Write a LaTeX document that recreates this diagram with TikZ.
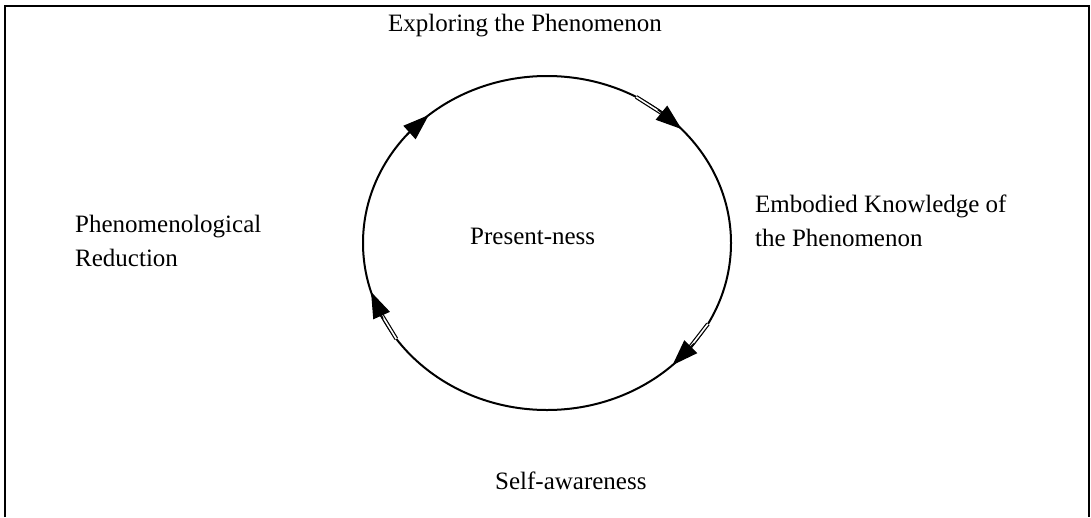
\documentclass[tikz,border=0pt]{standalone}
\usepackage{fontspec}
\setmainfont{Liberation Serif}
\usetikzlibrary{arrows.meta}
\begin{document}
\begin{tikzpicture}[x=1pt,y=-1pt,
  lbl/.style={inner sep=0pt, font=\fontsize{25}{34}\selectfont, align=left},
  cyc/.style={line width=2pt},
  head/.style={-{Triangle[length=26pt,width=18pt]}, line width=1.2pt},
  dbl/.style={double, double distance=1.6pt, line width=1.2pt}]
\useasboundingbox (0,0) rectangle (1091,517);
% frame (no bottom edge)
\draw[line width=2pt] (5,517) -- (5,6) -- (1089,6) -- (1089,517);
% cycle
\def\cx{547}\def\cy{243}\def\rx{184}\def\ry{167}
\coordinate (C) at (\cx,\cy);
\draw[cyc] (C) ellipse [x radius=\rx, y radius=\ry];
% arrowheads (clockwise)
\foreach \t/\hasdbl in {130/0, 43/1, -47/1, 197/1}{
  \coordinate (tip) at ({\cx+\rx*cos(\t)},{\cy-\ry*sin(\t)});
  \coordinate (pre) at ({\cx+\rx*cos(\t+10)},{\cy-\ry*sin(\t+10)});
  \coordinate (s1) at ({\cx+\rx*cos(\t+6)},{\cy-\ry*sin(\t+6)});
  \coordinate (s2) at ({\cx+\rx*cos(\t+18)},{\cy-\ry*sin(\t+18)});
  \ifnum\hasdbl=1 \draw[dbl] (s2) -- (s1); \fi
  \draw[head] (pre) -- (tip);
}
% labels
\node[lbl, anchor=base west] (explore) at (388,31) {Exploring the Phenomenon};
\node[lbl, anchor=west] (embodied) at (755,221) {Embodied Knowledge of\\the Phenomenon};
\node[lbl, anchor=west] (reduction) at (75,241) {Phenomenological\\Reduction};
\node[lbl, anchor=base west] (present) at (470,244) {Present-ness};
\node[lbl, anchor=base west] (self) at (495,489) {Self-awareness};
\end{tikzpicture}
\end{document}
